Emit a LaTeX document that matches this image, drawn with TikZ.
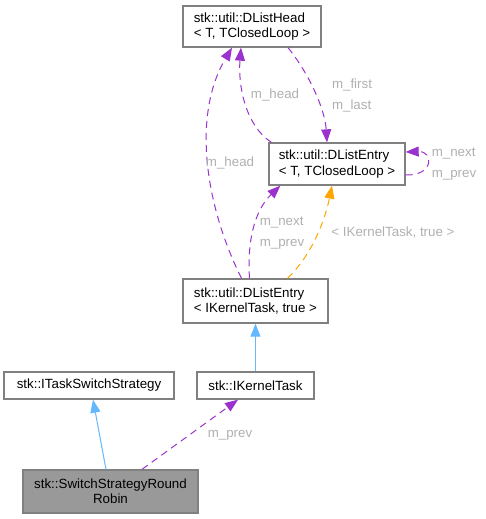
\documentclass[tikz,border=0pt]{standalone}
\usepackage{fontspec}
\setmainfont{Liberation Sans}
\definecolor{edgepurple}{HTML}{9A32CD}
\definecolor{edgeblue}{HTML}{63B8FF}
\definecolor{edgeorange}{HTML}{FFA500}
\definecolor{labelgray}{HTML}{B0B0B0}
\definecolor{boxgray}{HTML}{808080}
\definecolor{nodefill}{HTML}{999999}
\usetikzlibrary{arrows.meta, calc}

\begin{document}
\begin{tikzpicture}[x=0.75pt, y=-0.75pt,
  cls/.style={draw=boxgray, line width=1pt, fill=white, inner sep=0pt,
    font=\fontsize{10}{11.5}\selectfont, align=left},
  lbl/.style={text=labelgray, inner sep=0pt, font=\fontsize{10}{15.75}\selectfont, align=left},
  tip/.style={-{Triangle[length=9.75pt, width=7.5pt]}},
  usage/.style={tip, edgepurple, line width=0.75pt, dash pattern=on 5.25pt off 3.75pt},
  templ/.style={tip, edgeorange, line width=0.75pt, dash pattern=on 5.25pt off 3.75pt},
  inherit/.style={tip, edgeblue, line width=0.75pt}]
  \useasboundingbox (0,0) rectangle (486,519);

  % Classes
  \node[cls, minimum width=103.5pt, minimum height=30.75pt] (head) at (252,26.5)
    {stk::util::DListHead\\< T, TClosedLoop >};
  \node[cls, minimum width=102pt, minimum height=31.5pt] (entryT) at (337,164)
    {stk::util::DListEntry\\< T, TClosedLoop >};
  \node[cls, minimum width=108.75pt, minimum height=33pt] (entryK) at (255.5,301)
    {stk::util::DListEntry\\< IKernelTask, true >};
  \node[cls, minimum width=127.5pt, minimum height=20.25pt] (strategy) at (89,385.5)
    {stk::ITaskSwitchStrategy};
  \node[cls, minimum width=87.75pt, minimum height=20.25pt] (ktask) at (255.5,385.5)
    {stk::IKernelTask};
  \node[cls, fill=nodefill, align=center, minimum width=131.25pt, minimum height=32.25pt] (rr) at (110.5,491.5)
    {stk::SwitchStrategyRound\\Robin};

  % Inheritance
  \draw[inherit] (ktask) -- (entryK);
  \draw[inherit] ($(rr.north)+(-4.5,0)$) -- ($(strategy.south)+(4,0)$);

  % Members
  \draw[usage] ($(rr.north)+(31.5,0)$) -- ($(ktask.south)+(-17.5,0)$);
  \draw[usage] ($(entryK.north)+(-14,0)$) .. controls (205,205) and (192,115) .. ($(head.south)+(-20,0)$);
  \draw[usage] ($(entryT.north west)+(3,0)$) .. controls (245,125) and (238,85) .. ($(head.south)+(-11,0)$);
  \draw[usage] ($(head.south)+(36,0)$) .. controls (310,75) and (325,110) .. ($(entryT.north)+(-10,0)$);
  \draw[usage] ($(entryK.north)+(-6,0)$) .. controls (247,240) and (255,210) .. ($(entryT.south west)+(12,0)$);
  \draw[usage] ($(entryT.east)+(0,11)$) .. controls (434,176) and (434,151) .. ($(entryT.east)+(0,-12)$);

  % Template instance
  \draw[templ] ($(entryK.north)+(32,0)$) .. controls (312,255) and (325,220) .. ($(entryT.south)+(-5,0)$);

  % Labels
  \node[lbl] (lfirst) at (352,95) {m\_first\\m\_last};
  \node[lbl] (lheadA) at (275,95) {m\_head};
  \node[lbl] (lheadB) at (230,163) {m\_head};
  \node[lbl] (lself) at (454,164) {m\_next\\m\_prev};
  \node[lbl] (lnext) at (282,233) {m\_next\\m\_prev};
  \node[lbl] (ltempl) at (393,233) {< IKernelTask, true >};
  \node[lbl] (lprev) at (230,435) {m\_prev};
\end{tikzpicture}
\end{document}
